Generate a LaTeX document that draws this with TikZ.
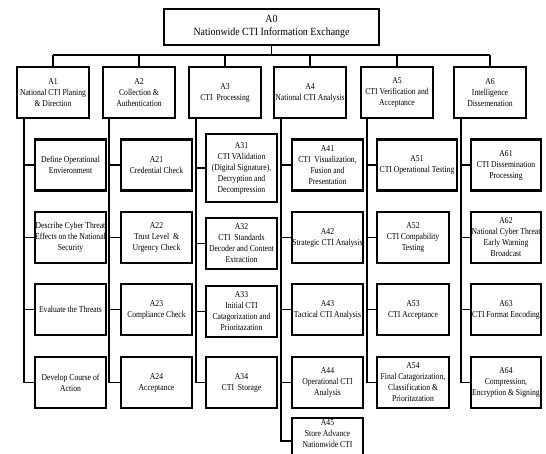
\documentclass[tikz,border=0pt]{standalone}
\usepackage{fontspec}
\setmainfont{Liberation Serif}
\newfontfamily\titlefont{Liberation Serif}[FakeStretch=0.9]
\newfontfamily\boxfont{Liberation Serif}[FakeStretch=0.85]

\tikzset{
  topbox/.style={draw, line width=1.4pt, minimum width=215pt, minimum height=36pt,
    inner sep=0pt, align=center, font={\titlefont\fontsize{11}{13}\selectfont}},
  mainbox/.style={draw, line width=2.2pt, minimum width=72pt, minimum height=51pt,
    inner sep=0pt, align=center, font={\boxfont\fontsize{9}{11}\selectfont}},
  subbox/.style={draw, line width=2.2pt, minimum width=71pt, minimum height=51pt,
    inner sep=0pt, align=center, font={\boxfont\fontsize{9}{11}\selectfont}},
  plaintext/.style={inner sep=0pt, align=center, font={\boxfont\fontsize{9}{11}\selectfont}},
  link/.style={line width=1.3pt},
}

\begin{document}
\begin{tikzpicture}[x=1pt,y=-1pt]
\useasboundingbox[fill=white] (0,0) rectangle (546,453);
\clip (0,0) rectangle (546,453);

% root
\node[topbox] (A0) at (271.5,27) {A0\\Nationwide CTI Information Exchange};

% first level
\node[mainbox] (A1) at (53,92.5)  {A1\\National CTI Planing\\\& Direction};
\node[mainbox] (A2) at (139,92.5) {A2\\Collection \&\\Authentication};
\node[mainbox] (A3) at (225,92.5) {A3\\CTI~ Processing};
\node[mainbox] (A4) at (310,92.5) {A4\\National CTI Analysis};
\node[mainbox] (A5) at (397,92.5) {A5\\CTI Verification and\\Acceptance};
\node[mainbox] (A6) at (490,92.5) {A6\\Intelligence\\Dissemenation};

% bus under the root
\coordinate (bus) at (0,55);
\draw[link] (A0.south) -- (A0.south |- bus);
\draw[link] (A1.north |- bus) -- (A6.north |- bus);
\foreach \n in {A1,A2,A3,A4,A5,A6}
  \draw[link] (\n.north) -- (\n.north |- bus);

% A1 children
\node[subbox] (A1a) at (70.5,165)   {Define Operational\\Envieronment};
\node[subbox] (A1b) at (70.5,237.5) {Describe Cyber Threat\\Effects on the National\\Security};
\node[subbox] (A1c) at (70.5,309.5) {Evaluate the Threats};
\node[subbox] (A1d) at (70.5,382.5) {Develop Course of\\Action};

% A2 children
\node[subbox] (A21) at (156.5,165)   {A21\\Credential Check};
\node[subbox] (A22) at (156.5,237.5) {A22\\Trust Level~ \&\\Urgency Check};
\node[subbox] (A23) at (156.5,309.5) {A23\\Compliance Check};
\node[subbox] (A24) at (156.5,382.5) {A24\\Acceptance};

% A3 children
\node[subbox, minimum height=68pt] (A31) at (241.5,168) {A31\\CTI VAlidation\\(Digital Signature),\\Decryption and\\Decompression};
\node[subbox] (A32) at (241.5,243.5) {A32\\CTI~ Standards\\Decoder and Content\\Extraction};
\node[subbox] (A33) at (241.5,311.5) {A33\\Initial CTI\\Catagorization and\\Prioritazation};
\node[subbox] (A34) at (241.5,382.5) {A34\\CTI~ Storage};

% A4 children
\node[subbox] (A41) at (327.5,165)   {A41\\CTI~ Visualization,\\Fusion and\\Presentation};
\node[subbox] (A42) at (327.5,237.5) {A42\\Strategic CTI Analysis};
\node[subbox] (A43) at (327.5,309.5) {A43\\Tactical CTI Analysis};
\node[subbox] (A44) at (327.5,382.5) {A44\\Operational CTI\\Analysis};
\node[subbox, minimum height=60pt, anchor=north] (A45) at (327.5,417) {};
\node[plaintext, anchor=north] (A45t) at ([yshift=-2pt]A45.north) {A45\\Store Advance\\Nationwide CTI};
\coordinate (A45in) at ([yshift=7pt]A45.west);

% A5 children
\node[subbox, minimum width=80pt] (A51) at (417,165) {A51\\CTI Operational Testing};
\node[subbox, minimum width=72pt] (A52) at (413,237.5) {A52\\CTI Compability\\Testing};
\node[subbox, minimum width=72pt] (A53) at (413,309.5) {A53\\CTI Acceptance};
\node[subbox, minimum width=72pt] (A54) at (413,382.5) {A54\\Final Catagorization,\\Classification \&\\Prioritazation};

% A6 children
\node[subbox, minimum width=70pt] (A61) at (506,165)   {A61\\CTI Dissemination\\Processing};
\node[subbox, minimum width=70pt] (A62) at (506,237.5) {A62\\National Cyber Threat\\Early Warning\\Broadcast};
\node[subbox, minimum width=70pt] (A63) at (506,309.5) {A63\\CTI Format Encoding};
\node[subbox, minimum width=70pt] (A64) at (506,382.5) {A64\\Compression,\\Encryption \& Signing};

% spines: down the left side of each parent, then across to every child
\coordinate (s1) at ([xshift=8pt]A1.south west);
\coordinate (s2) at ([xshift=7pt]A2.south west);
\coordinate (s3) at ([xshift=8pt]A3.south west);
\coordinate (s4) at ([xshift=8pt]A4.south west);
\coordinate (s5) at ([xshift=7pt]A5.south west);
\coordinate (s6) at ([xshift=8pt]A6.south west);

\draw[link] (s1) |- (A1d.west);
\foreach \c in {A1a,A1b,A1c} \draw[link] (\c.west) -- (\c.west -| s1);
\draw[link] (s2) |- (A24.west);
\foreach \c in {A21,A22,A23} \draw[link] (\c.west) -- (\c.west -| s2);
\draw[link] (s3) |- (A34.west);
\foreach \c in {A31,A32,A33} \draw[link] (\c.west) -- (\c.west -| s3);
\draw[link] (s4) |- (A45in);
\foreach \c in {A41,A42,A43,A44} \draw[link] (\c.west) -- (\c.west -| s4);
\draw[link] (s5) |- (A54.west);
\foreach \c in {A51,A52,A53} \draw[link] (\c.west) -- (\c.west -| s5);
\draw[link] (s6) |- (A64.west);
\foreach \c in {A61,A62,A63} \draw[link] (\c.west) -- (\c.west -| s6);
\end{tikzpicture}
\end{document}
